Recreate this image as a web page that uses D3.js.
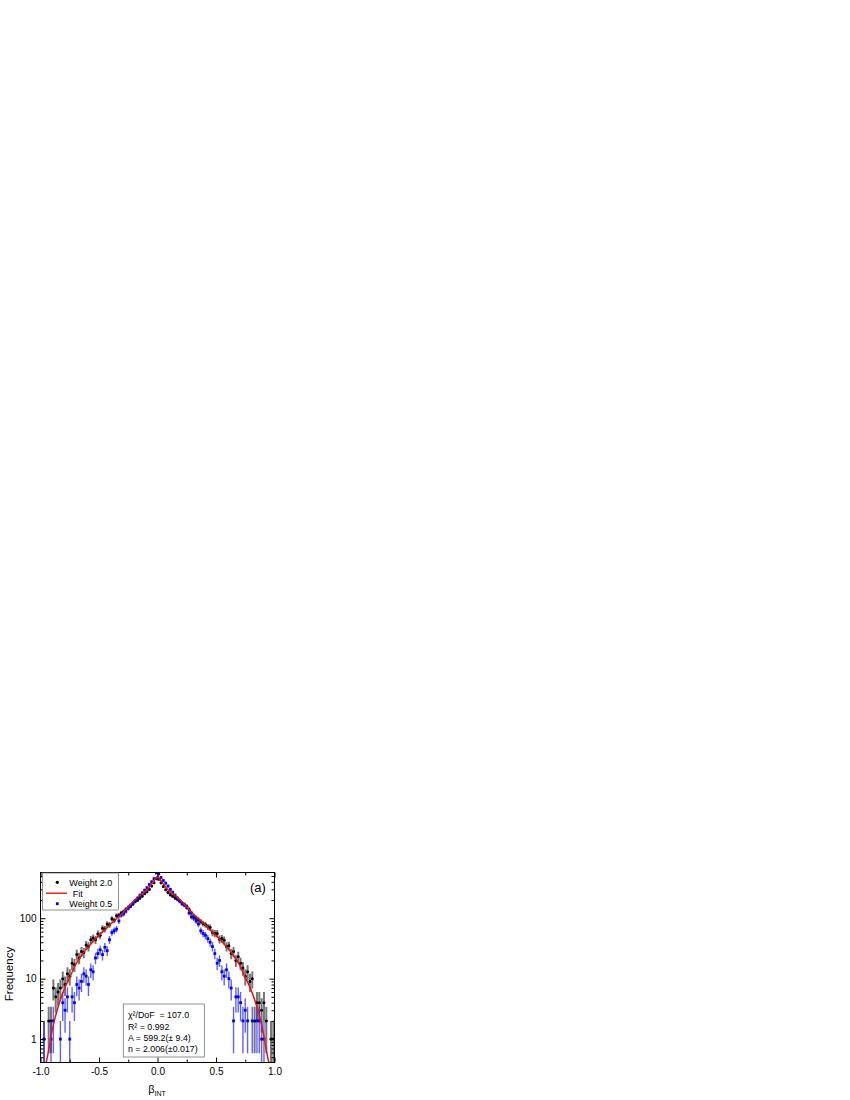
<!DOCTYPE html>
<html>
<head>
<meta charset="utf-8">
<script src="https://cdn.jsdelivr.net/npm/d3@7"></script>
<style>
  html, body { margin: 0; padding: 0; background: #fff; }
  svg { display: block; font-family: "Liberation Sans", Arial, sans-serif; }
</style>
</head>
<body>
<svg id="chart" width="850" height="1100"></svg>
<script>
// bin centres of the beta_INT histogram
const BETA_BINS = [
  -0.99,-0.97,-0.95,-0.93,-0.91,-0.89,-0.87,-0.85,-0.83,-0.81,
  -0.79,-0.77,-0.75,-0.73,-0.71,-0.69,-0.67,-0.65,-0.63,-0.61,
  -0.59,-0.57,-0.55,-0.53,-0.51,-0.49,-0.47,-0.45,-0.43,-0.41,
  -0.39,-0.37,-0.35,-0.33,-0.31,-0.29,-0.27,-0.25,-0.23,-0.21,
  -0.19,-0.17,-0.15,-0.13,-0.11,-0.09,-0.07,-0.05,-0.03,-0.01,
   0.01, 0.03, 0.05, 0.07, 0.09, 0.11, 0.13, 0.15, 0.17, 0.19,
   0.21, 0.23, 0.25, 0.27, 0.29, 0.31, 0.33, 0.35, 0.37, 0.39,
   0.41, 0.43, 0.45, 0.47, 0.49, 0.51, 0.53, 0.55, 0.57, 0.59,
   0.61, 0.63, 0.65, 0.67, 0.69, 0.71, 0.73, 0.75, 0.77, 0.79,
   0.81, 0.83, 0.85, 0.87, 0.89, 0.91, 0.93, 0.95, 0.97, 0.99
];

// counts, null = empty bin (not drawn on log axis)
const WEIGHT_20 = [
  null,1,null,2,2,7,5,6,7,10,
  8,12,11,18,17,25,22,28,27,36,
  34,44,47,44,55,52,68,66,80,78,
  98,92,110,112,122,128,140,152,160,172,
  188,200,215,232,255,275,300,340,385,450,
  440,385,335,295,265,245,230,215,205,190,
  178,168,158,140,122,108,100,94,88,82,
  78,72,70,58,56,56,45,46,43,34,
  35,26,28,20,23,18,15,11,13,9,
  10,2,4,4,3,4,2,null,1,1
];

const WEIGHT_05 = [
  null,1,null,null,1,2,null,null,1,4,
  3,5,1,5,4,8,7,9,12,11,
  8,14,13,22,26,30,25,33,29,44,
  58,62,66,90,112,118,130,146,158,175,
  195,215,240,262,290,320,360,400,450,560,
  540,470,420,380,340,300,268,240,215,195,
  172,165,150,122,105,100,90,80,62,56,
  52,46,40,34,26,18,20,13,11,14,
  10,7,2,5,5,4,2,3,2,null,
  2,null,2,2,1,1,null,null,null,null
];

// fit curve
const FIT_X = [-0.955,-0.93,-0.9,-0.85,-0.8,-0.75,-0.7,-0.65,-0.6,-0.55,-0.5,-0.45,-0.4,-0.35,-0.3,-0.25,-0.2,-0.15,-0.1,-0.05,0,
               0.05,0.1,0.15,0.2,0.25,0.3,0.35,0.4,0.45,0.5,0.55,0.6,0.65,0.7,0.75,0.8,0.85,0.9,0.93,0.955];
const FIT_Y = [0.38,0.65,1.4,3.4,6.5,10.5,17,24,32,41,52,64,80,98,120,155,195,240,280,370,500,
               370,280,240,195,155,120,98,80,64,52,41,32,24,17,10.5,6.5,3.4,1.4,0.65,0.38];

const X_TICKS = [-1, -0.5, 0, 0.5, 1];
const X_TICK_LABELS = ["-1.0", "-0.5", "0.0", "0.5", "1.0"];
const X_MINOR = [-0.75, -0.25, 0.25, 0.75];
const Y_TICKS = [1, 10, 100];
const Y_TICK_LABELS = ["1", "10", "100"];
const Y_MINOR = [0.5,0.6,0.7,0.8,0.9,2,3,4,5,6,7,8,9,20,30,40,50,60,70,80,90,200,300,400,500];

const LEGEND = ["Weight 2.0", "Fit", "Weight 0.5"];
const STATS = ["χ²/DoF  = 107.0", "R² = 0.992", "A = 599.2(± 9.4)", "n = 2.006(±0.017)"];

const svg = d3.select("#chart");
svg.append("rect").attr("width", 850).attr("height", 1100).attr("fill", "#fff");

const L = 40.5, R = 274.5, T = 872.5, B = 1062.5;
const x = d3.scaleLinear().domain([-1, 1]).range([L, R]);
const y = d3.scaleLog().domain([0.41, 570]).range([B, T]);

svg.append("clipPath").attr("id", "plotclip")
  .append("rect").attr("x", L).attr("y", T).attr("width", R - L).attr("height", B - T);

const plot = svg.append("g").attr("clip-path", "url(#plotclip)");

function pts(vals) {
  return BETA_BINS.map((b, i) => ({ x: b, v: vals[i] })).filter(d => d.v != null && d.v > 0);
}
const black = pts(WEIGHT_20);
const blue = pts(WEIGHT_05);

// Poisson error bars (sqrt of count); lower end off-axis when it hits 0
function errBars(data, color, width, op) {
  plot.append("g").selectAll("line").data(data).enter().append("line")
    .attr("x1", d => x(d.x)).attr("x2", d => x(d.x))
    .attr("y1", d => { const lo = d.v - Math.sqrt(d.v); return lo > 0 ? y(lo) : B + 5; })
    .attr("y2", d => y(d.v + Math.sqrt(d.v)))
    .attr("stroke", color).attr("stroke-width", width).attr("stroke-opacity", op);
}

errBars(black, "#4a4a4a", 2, 0.75);
plot.append("g").selectAll("circle").data(black).enter().append("circle")
  .attr("cx", d => x(d.x)).attr("cy", d => y(d.v)).attr("r", 1.5).attr("fill", "#000");

errBars(blue, "#2b2bff", 1.4, 0.75);
plot.append("g").selectAll("rect").data(blue).enter().append("rect")
  .attr("x", d => x(d.x) - 1.4).attr("y", d => y(d.v) - 1.4)
  .attr("width", 2.8).attr("height", 2.8).attr("fill", "#0000ff");

// fit: two halves so the cusp at 0 stays sharp
const fit = FIT_X.map((fx, i) => ({ x: fx, v: FIT_Y[i] }));
const mid = FIT_X.indexOf(0);
const fitLine = d3.line().x(d => x(d.x)).y(d => y(d.v)).curve(d3.curveMonotoneX);
[fit.slice(0, mid + 1), fit.slice(mid)].forEach(part => {
  plot.append("path").datum(part)
    .attr("fill", "none").attr("stroke", "#ee1111").attr("stroke-width", 1.5)
    .attr("d", fitLine);
});

// frame
svg.append("rect").attr("x", L).attr("y", T).attr("width", R - L).attr("height", B - T)
  .attr("fill", "none").attr("stroke", "#000").attr("stroke-width", 1);

// axes, inward ticks on all four sides
function styleAxis(g) {
  g.select(".domain").remove();
  g.selectAll("line").attr("stroke", "#000");
  g.selectAll("text").attr("font-size", 10).attr("fill", "#000")
    .attr("font-family", "'Liberation Sans', Arial, sans-serif");
}
svg.append("g").attr("transform", `translate(0,${B})`)
  .call(d3.axisBottom(x).tickValues(X_TICKS).tickSize(-5).tickPadding(5.5)
    .tickFormat((d, i) => X_TICK_LABELS[i])).call(styleAxis);
svg.append("g").attr("transform", `translate(0,${B})`)
  .call(d3.axisBottom(x).tickValues(X_MINOR).tickSize(-3).tickFormat("")).call(styleAxis);
svg.append("g").attr("transform", `translate(0,${T})`)
  .call(d3.axisTop(x).tickValues(X_TICKS).tickSize(-5).tickFormat("")).call(styleAxis);
svg.append("g").attr("transform", `translate(0,${T})`)
  .call(d3.axisTop(x).tickValues(X_MINOR).tickSize(-3).tickFormat("")).call(styleAxis);

svg.append("g").attr("transform", `translate(${L},0)`)
  .call(d3.axisLeft(y).tickValues(Y_TICKS).tickSize(-5).tickPadding(4)
    .tickFormat((d, i) => Y_TICK_LABELS[i])).call(styleAxis);
svg.append("g").attr("transform", `translate(${L},0)`)
  .call(d3.axisLeft(y).tickValues(Y_MINOR).tickSize(-3).tickFormat("")).call(styleAxis);
svg.append("g").attr("transform", `translate(${R},0)`)
  .call(d3.axisRight(y).tickValues(Y_TICKS).tickSize(-5).tickFormat("")).call(styleAxis);
svg.append("g").attr("transform", `translate(${R},0)`)
  .call(d3.axisRight(y).tickValues(Y_MINOR).tickSize(-3).tickFormat("")).call(styleAxis);

// axis titles
svg.append("text").attr("transform", `translate(13,974) rotate(-90)`)
  .attr("text-anchor", "middle").attr("font-size", 11.5).text("Frequency");
const xt = svg.append("text").attr("x", 157).attr("y", 1093).attr("text-anchor", "middle").attr("font-size", 11);
xt.append("tspan").text("β");
xt.append("tspan").attr("font-size", 7).attr("dy", 3).text("INT");

// panel label
svg.append("text").attr("x", 250).attr("y", 892).attr("font-size", 13).text("(a)");

// legend
const lg = svg.append("g");
lg.append("rect").attr("x", 42.5).attr("y", 873).attr("width", 76).attr("height", 37)
  .attr("fill", "#fff").attr("stroke", "#777").attr("stroke-width", 0.8);
lg.append("circle").attr("cx", 57.3).attr("cy", 882.3).attr("r", 1.6).attr("fill", "#000");
lg.append("line").attr("x1", 46).attr("x2", 67).attr("y1", 893.2).attr("y2", 893.2)
  .attr("stroke", "#ee1111").attr("stroke-width", 1.4);
lg.append("rect").attr("x", 55.9).attr("y", 902.3).attr("width", 2.8).attr("height", 2.8).attr("fill", "#0000ff");
[885.6, 896.6, 907].forEach((yy, i) => {
  lg.append("text").attr("x", i === 1 ? 72.7 : 69.3).attr("y", yy)
    .attr("font-size", 9).text(LEGEND[i]);
});

// fit statistics box
const sb = svg.append("g");
sb.append("rect").attr("x", 123.3).attr("y", 1004).attr("width", 81).attr("height", 53)
  .attr("fill", "#fff").attr("stroke", "#777").attr("stroke-width", 0.8);
[1018, 1029.5, 1040.8, 1052].forEach((yy, i) => {
  sb.append("text").attr("x", 128).attr("y", yy).attr("font-size", 8.8)
    .style("white-space", "pre").text(STATS[i]);
});
</script>
</body>
</html>
